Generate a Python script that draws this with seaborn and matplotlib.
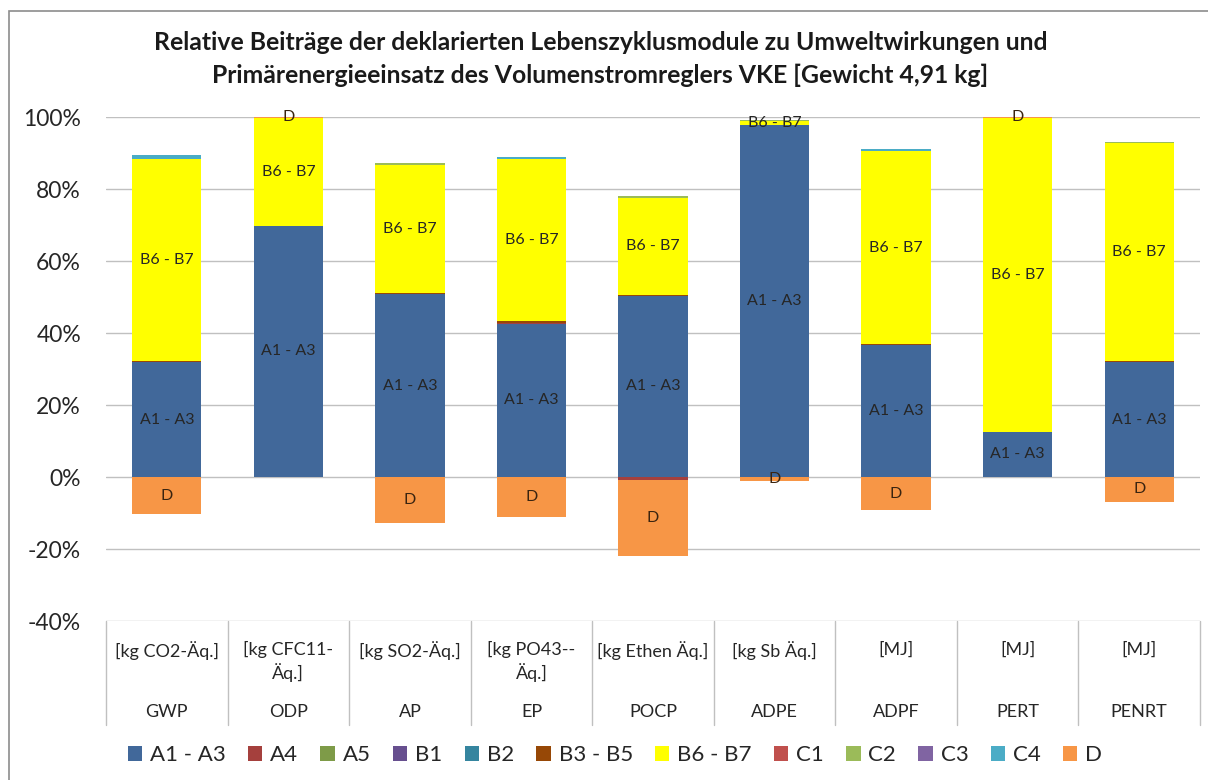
import numpy as np
import pandas as pd
import matplotlib
matplotlib.use("Agg")
import matplotlib.pyplot as plt
import seaborn as sns
from matplotlib.patches import Patch, Rectangle

# ---------------- data (percent) ----------------
categories = ["GWP", "ODP", "AP", "EP", "POCP", "ADPE", "ADPF", "PERT", "PENRT"]
units = ["[kg CO2-Äq.]", "[kg CFC11-\nÄq.]", "[kg SO2-Äq.]", "[kg PO43--\nÄq.]",
         "[kg Ethen Äq.]", "[kg Sb Äq.]", "[MJ]", "[MJ]", "[MJ]"]

modules = ["A1 - A3", "A4", "A5", "B1", "B2", "B3 - B5", "B6 - B7",
           "C1", "C2", "C3", "C4", "D"]

a1_a3 = [31.9, 69.8, 50.8, 42.6, 50.4, 97.9, 36.7, 12.5, 31.9]
a4 = [0.1, 0.0, 0.1, 0.1, -0.8, 0.0, 0.1, 0.0, 0.1]
a5 = [0.0, 0.0, 0.0, 0.0, 0.0, 0.0, 0.0, 0.0, 0.0]
b1 = [0.0, 0.0, 0.0, 0.0, 0.0, 0.0, 0.0, 0.0, 0.0]
b2 = [0.0, 0.0, 0.0, 0.0, 0.0, 0.0, 0.0, 0.0, 0.0]
b3_b5 = [0.2, 0.0, 0.3, 0.6, 0.2, 0.0, 0.1, 0.0, 0.1]
b6_b7 = [56.2, 30.0, 35.6, 45.0, 26.9, 1.0, 53.7, 87.3, 60.8]
c1 = [0.0, 0.0, 0.0, 0.0, 0.0, 0.0, 0.0, 0.0, 0.0]
c2 = [0.0, 0.0, 0.4, 0.0, 0.5, 0.3, 0.0, 0.0, 0.2]
c3 = [0.0, 0.0, 0.0, 0.0, 0.0, 0.0, 0.0, 0.0, 0.0]
c4 = [1.0, 0.0, 0.0, 0.5, 0.0, 0.0, 0.4, 0.0, 0.0]
d = [-10.3, 0.2, -12.8, -11.1, -21.1, -1.1, -9.2, 0.2, -6.9]

series_values = [a1_a3, a4, a5, b1, b2, b3_b5, b6_b7, c1, c2, c3, c4, d]
colors = ["#41689A", "#A5403D", "#7E9B48", "#674F8F", "#35859F", "#974806",
          "#FFFF00", "#C0504D", "#9BBB59", "#8064A2", "#4BACC6", "#F79646"]
labelled = {"A1 - A3", "B6 - B7", "D"}

title1 = "Relative Beiträge der deklarierten Lebenszyklusmodule zu Umweltwirkungen und"
title2 = "Primärenergieeinsatz des Volumenstromreglers VKE [Gewicht 4,91 kg]"

# ---------------- style ----------------
sns.set_theme(style="white")
plt.rcParams['font.family'] = ['Lato', 'DejaVu Sans']

W, H = 1208, 780
fig = plt.figure(figsize=(W / 100, H / 100), dpi=100)
ax = fig.add_axes([106 / W, 159 / H, 1094 / W, 504 / H])

pos_bottom = np.zeros(len(categories))
neg_bottom = np.zeros(len(categories))
label_pos = []
for name, vals, col in zip(modules, series_values, colors):
    v = np.array(vals, dtype=float)
    bottoms = np.where(v >= 0, pos_bottom, neg_bottom)
    df = pd.DataFrame({"cat": categories, "val": v})
    sns.barplot(data=df, x="cat", y="val", order=categories, color=col,
                saturation=1, width=0.57, bottom=bottoms, linewidth=0,
                errorbar=None, ax=ax)
    if name in labelled:
        for i, (b, h) in enumerate(zip(bottoms, v)):
            if h != 0:
                label_pos.append((i, b + h / 2, name))
    pos_bottom = pos_bottom + np.where(v >= 0, v, 0)
    neg_bottom = neg_bottom + np.where(v < 0, v, 0)

for i, y, name in label_pos:
    col = "#3a2410" if name == "D" else "#262626"
    ax.text(i, y, name, ha="center", va="center", fontsize=11.5, color=col)

ax.set_xlim(-0.5, len(categories) - 0.5)
ax.set_ylim(-40, 100)
yt = list(range(-40, 101, 20))
ax.set_yticks(yt)
ax.set_yticklabels([f"{t}%" for t in yt], fontsize=16.5, color="#262626")
ax.set_xticks([])
ax.set_xlabel("")
ax.set_ylabel("")
ax.yaxis.grid(True, color="#c0c0c0", lw=1)
ax.set_axisbelow(True)
ax.tick_params(axis="y", length=0, pad=18)
for s in ax.spines.values():
    s.set_visible(False)

# category table below the plot
for xb in np.arange(-0.5, len(categories), 1.0):
    ax.plot([xb, xb], [-40, -68.9], color="#c0c0c0", lw=1, clip_on=False)
for i, (u, c) in enumerate(zip(units, categories)):
    ax.text(i, -45.6, u, ha="center", va="top", fontsize=13,
            linespacing=1.3, color="#262626", clip_on=False)
    ax.text(i, -65.3, c, ha="center", va="center", fontsize=13,
            color="#262626", clip_on=False)

# legend
handles = [Patch(facecolor=c, edgecolor="none") for c in colors]
fig.legend(handles, modules, loc="center", bbox_to_anchor=(0.509, 1 - 755 / H),
           ncol=len(modules), frameon=False, fontsize=16, handlelength=0.65,
           handleheight=0.65, columnspacing=1.0, handletextpad=0.35,
           labelcolor="#262626")

# title
fig.text(0.497, 1 - 42 / H, title1, ha="center", va="center", fontsize=17.8,
         fontweight="bold", color="#1a1a1a")
fig.text(0.497, 1 - 75 / H, title2, ha="center", va="center", fontsize=17.8,
         fontweight="bold", color="#1a1a1a")

# outer chart frame
fig.add_artist(Rectangle((9 / W, -0.05), 1.2, (H - 11) / H + 0.05,
                         transform=fig.transFigure, fill=False,
                         edgecolor="#8c8c8c", lw=1.2))

fig.savefig("out.png", dpi=100)
